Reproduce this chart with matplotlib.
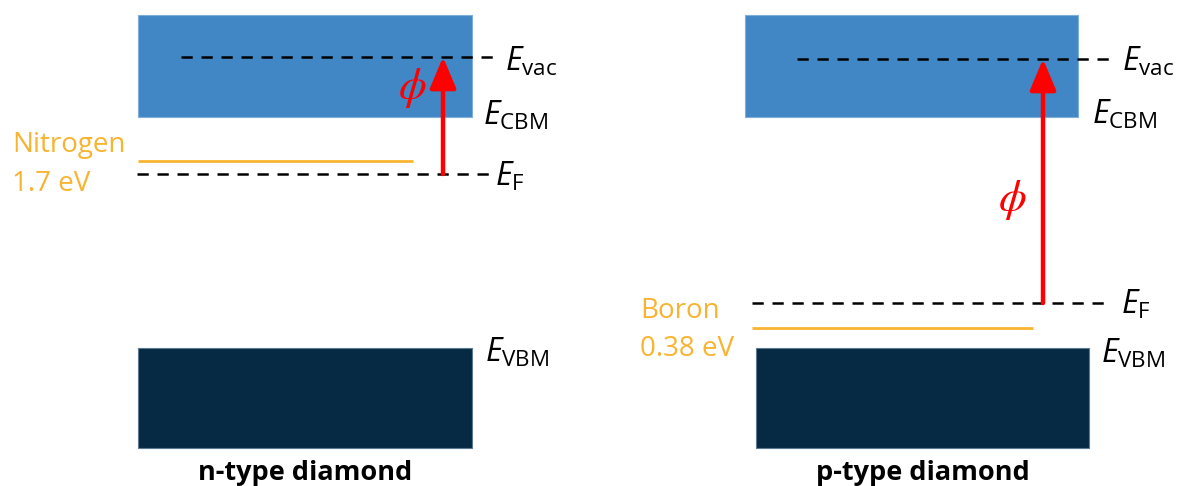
import matplotlib.pyplot as plt
from matplotlib.patches import Rectangle

plt.rcParams['font.family'] = ['Open Sans', 'DejaVu Sans']
plt.rcParams['mathtext.fontset'] = 'custom'
plt.rcParams['mathtext.rm'] = 'Open Sans'
plt.rcParams['mathtext.it'] = 'Open Sans:italic'

# band diagram levels, in diagram units (y grows downward)
panel_titles = ["n-type diamond", "p-type diamond"]
cb_x = [(138, 472), (745, 1078)]
vb_x = [(138, 472), (756, 1089)]
cb_y = (15, 117)
vb_y = (348, 448)
e_vac = [57, 59]
e_vac_x = [(181, 498), (797, 1110)]
e_fermi = [174, 303]
e_fermi_x = [(137, 490), (752, 1108)]
dopant_names = ["Nitrogen", "Boron"]
dopant_energies = ["1.7 eV", "0.38 eV"]
dopant_level = [161, 328]
dopant_x = [(138, 413), (752, 1033)]
work_fn_x = [443, 1043]
work_fn_label_y = [88, 200]

cb_color = "#4187C5"
vb_color = "#062A43"
dopant_color = "#F8B431"

fig = plt.figure(figsize=(11.77, 4.86), dpi=100)
ax = fig.add_axes([0, 0, 1, 1])
ax.set_xlim(0, 1177)
ax.set_ylim(486, 0)
ax.axis('off')

for i in range(2):
    # conduction and valence bands
    ax.add_patch(Rectangle((cb_x[i][0], cb_y[0]), cb_x[i][1] - cb_x[i][0],
                           cb_y[1] - cb_y[0], facecolor=cb_color,
                           edgecolor="#7FAEDB", lw=0.8, zorder=1))
    ax.add_patch(Rectangle((vb_x[i][0], vb_y[0]), vb_x[i][1] - vb_x[i][0],
                           vb_y[1] - vb_y[0], facecolor=vb_color,
                           edgecolor="#5B7A92", lw=0.8, zorder=1))

    # vacuum and Fermi levels
    ax.plot(e_vac_x[i], [e_vac[i]] * 2, color="black", lw=1.8,
            dashes=(4.5, 3.5), zorder=3)
    ax.plot(e_fermi_x[i], [e_fermi[i]] * 2, color="black", lw=1.8,
            dashes=(4.5, 3.5), zorder=3)

    # dopant level
    ax.plot(dopant_x[i], [dopant_level[i]] * 2, color=dopant_color, lw=2,
            solid_capstyle='butt', zorder=2)

    # work function arrow from E_F up to E_vac
    ax.annotate("", xy=(work_fn_x[i], e_vac[i]),
                xytext=(work_fn_x[i], e_fermi[i]),
                arrowprops=dict(arrowstyle="-|>,head_length=1.9,head_width=0.8",
                                color="red", lw=3.2, shrinkA=0, shrinkB=0,
                                mutation_scale=10),
                zorder=4)
    ax.text(work_fn_x[i] - 31, work_fn_label_y[i], r"$\phi$", color="red",
            fontsize=32, ha='center', va='center', math_fontfamily='stix')

    ax.text(sum(vb_x[i]) / 2, 480, panel_titles[i], fontsize=19.5,
            fontweight='bold', ha='center', va='baseline')

# level labels
label_kw = dict(fontsize=23, ha='left', va='baseline')
ax.text(505, 71, r"$E_{\mathrm{vac}}$", **label_kw)
ax.text(483, 125, r"$E_{\mathrm{CBM}}$", **label_kw)
ax.text(495, 186, r"$E_{\mathrm{F}}$", **label_kw)
ax.text(485, 362, r"$E_{\mathrm{VBM}}$", **label_kw)
ax.text(1122, 71, r"$E_{\mathrm{vac}}$", **label_kw)
ax.text(1092, 124, r"$E_{\mathrm{CBM}}$", **label_kw)
ax.text(1121, 314, r"$E_{\mathrm{F}}$", **label_kw)
ax.text(1101, 363, r"$E_{\mathrm{VBM}}$", **label_kw)

# dopant names and activation energies
ax.text(12, 152, dopant_names[0], color=dopant_color, fontsize=20, va='baseline')
ax.text(12, 191, dopant_energies[0], color=dopant_color, fontsize=20, va='baseline')
ax.text(640, 318, dopant_names[1], color=dopant_color, fontsize=20, va='baseline')
ax.text(640, 356, dopant_energies[1], color=dopant_color, fontsize=20, va='baseline')

fig.savefig("out.png", dpi=100)
